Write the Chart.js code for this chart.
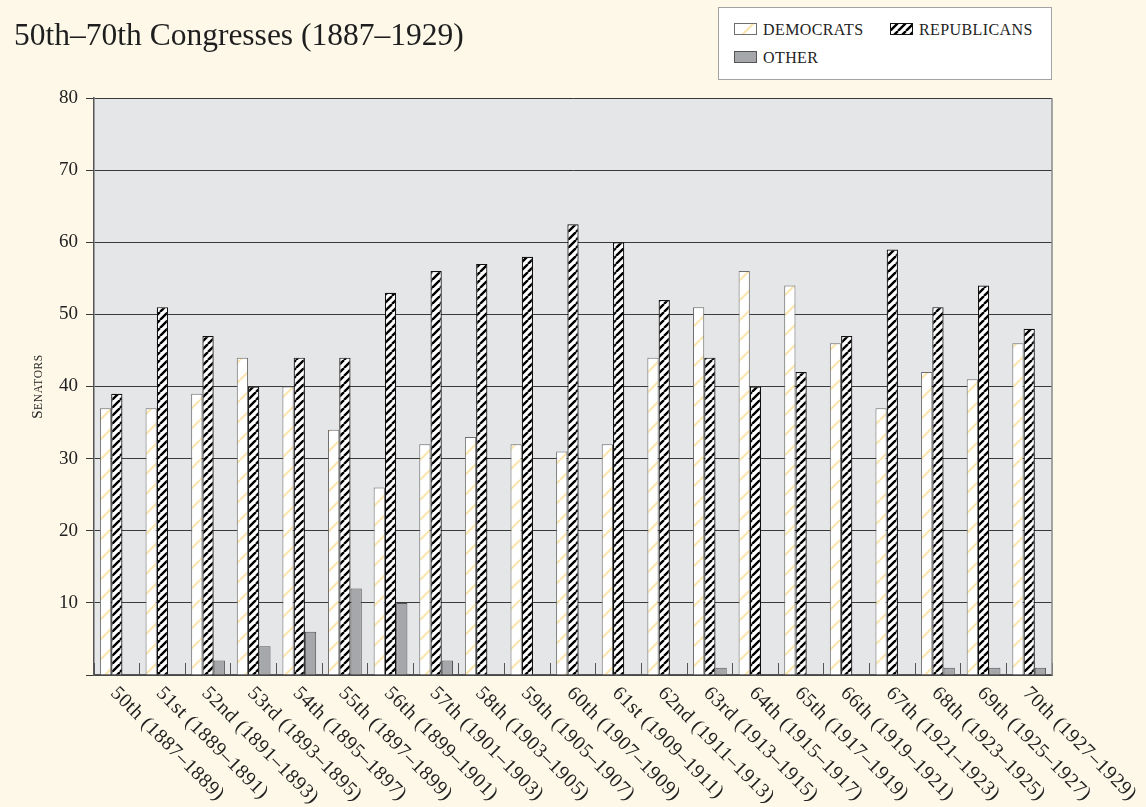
<!DOCTYPE html>
<html>
<head>
<meta charset="utf-8">
<script src="https://cdn.jsdelivr.net/npm/chart.js@4.4.1/dist/chart.umd.min.js"></script>
<style>
  html, body { margin: 0; padding: 0; background: #fdf8e8; }
  #wrap { position: relative; width: 1146px; height: 807px; overflow: hidden; }
  #chart { position: absolute; left: 0; top: 0; }
  #title { position: absolute; left: 14px; top: 19px; font: 31.5px/32px "Liberation Serif", serif; color: #1e1e1e; white-space: nowrap; }
  #legend { position: absolute; left: 718px; top: 7px; width: 334px; height: 73px; box-sizing: border-box; background: #fff; border: 1px solid #a3a3a3; }
  .sw { position: absolute; width: 23px; height: 12px; }
  .lt { position: absolute; font: 16px/16px "Liberation Serif", serif; letter-spacing: 0.4px; color: #222; white-space: nowrap; }
</style>
</head>
<body>
<div id="wrap">
  <canvas id="chart" width="1146" height="807"></canvas>
  <div id="title">50th–70th Congresses (1887–1929)</div>
  <div id="legend">
    <canvas class="sw" id="sw-dem" width="23" height="12" style="left:15px;top:15px"></canvas>
    <span class="lt" style="left:44px;top:14px">DEMOCRATS</span>
    <canvas class="sw" id="sw-rep" width="23" height="12" style="left:171px;top:15px"></canvas>
    <span class="lt" style="left:200px;top:14px">REPUBLICANS</span>
    <canvas class="sw" id="sw-oth" width="23" height="12" style="left:15px;top:43px"></canvas>
    <span class="lt" style="left:44px;top:42px">OTHER</span>
  </div>
</div>
<script>
// congressi e seggi al Senato
const congresses = [
  "50th (1887–1889)", "51st (1889–1891)", "52nd (1891–1893)", "53rd (1893–1895)",
  "54th (1895–1897)", "55th (1897–1899)", "56th (1899–1901)", "57th (1901–1903)",
  "58th (1903–1905)", "59th (1905–1907)", "60th (1907–1909)", "61st (1909–1911)",
  "62nd (1911–1913)", "63rd (1913–1915)", "64th (1915–1917)", "65th (1917–1919)",
  "66th (1919–1921)", "67th (1921–1923)", "68th (1923–1925)", "69th (1925–1927)",
  "70th (1927–1929)"
];
const democrats = [37, 37, 39, 44, 40, 34, 26, 32, 33, 32, 31, 32, 44, 51, 56, 54, 46, 37, 42, 41, 46];
const republicans = [39, 51, 47, 40, 44, 44, 53, 56, 57, 58, 62.5, 60, 52, 44, 40, 42, 47, 59, 51, 54, 48];
const other = [0, 0, 2, 4, 6, 12, 10, 2, 0, 0, 0, 0, 0, 1, 0, 0, 0, 0, 1, 1, 1];
const yTicks = [0, 10, 20, 30, 40, 50, 60, 70, 80];

const ctx = document.getElementById("chart").getContext("2d");

// tratteggio diagonale "/"
function stripes(target, size, bg, fg, lw) {
  const c = document.createElement("canvas");
  c.width = size;
  c.height = size;
  const g = c.getContext("2d");
  g.fillStyle = bg;
  g.fillRect(0, 0, size, size);
  g.strokeStyle = fg;
  g.lineWidth = lw;
  g.beginPath();
  for (const o of [-size, 0, size]) {
    g.moveTo(o, size);
    g.lineTo(o + size, 0);
  }
  g.stroke();
  return target.createPattern(c, "repeat");
}

const demFill = stripes(ctx, 20, "#ffffff", "#fce6b0", 2.2);
const repFill = stripes(ctx, 8, "#ffffff", "#000000", 2.4);
const othFill = "#a6a7aa";

// sfondo grigio dell'area del grafico
const plotBg = {
  id: "plotBg",
  beforeDraw(chart) {
    const { ctx, chartArea: a } = chart;
    ctx.save();
    ctx.fillStyle = "#e5e6e8";
    ctx.fillRect(a.left, a.top, a.right - a.left, a.bottom - a.top);
    ctx.restore();
  },
  beforeDatasetsDraw(chart) {
    const { ctx, chartArea: a } = chart;
    ctx.save();
    ctx.strokeStyle = "#8a8a8a";
    ctx.lineWidth = 1.5;
    ctx.beginPath();
    ctx.moveTo(a.right, a.top);
    ctx.lineTo(a.right, a.bottom);
    ctx.stroke();
    ctx.restore();
  }
};

// etichette inclinate e titolo asse y
const extraText = {
  id: "extraText",
  afterDraw(chart) {
    const { ctx, scales } = chart;
    const x = scales.x;
    const y = scales.y;
    ctx.save();
    ctx.font = '20px "Liberation Serif"';
    ctx.fillStyle = "#222";
    ctx.textAlign = "left";
    ctx.textBaseline = "alphabetic";
    if ("letterSpacing" in ctx) ctx.letterSpacing = "0.5px";
    congresses.forEach((lab, i) => {
      ctx.save();
      ctx.translate(x.getPixelForValue(i) - 7, x.top + 19);
      ctx.rotate(Math.PI / 4);
      ctx.fillText(lab, 0, 0);
      ctx.restore();
    });
    if ("letterSpacing" in ctx) ctx.letterSpacing = "0.6px";
    const big = '15px "Liberation Serif"';
    const small = '11.5px "Liberation Serif"';
    ctx.font = big;
    const w1 = ctx.measureText("S").width;
    ctx.font = small;
    const w2 = ctx.measureText("ENATORS").width;
    ctx.translate(37, (y.top + y.bottom) / 2);
    ctx.rotate(-Math.PI / 2);
    const start = -(w1 + w2) / 2;
    ctx.font = big;
    ctx.fillText("S", start, 5);
    ctx.font = small;
    ctx.fillText("ENATORS", start + w1, 5);
    ctx.restore();
  }
};

const chart = new Chart(ctx, {
  type: "bar",
  data: {
    labels: congresses,
    datasets: [
      { label: "Democrats", data: democrats, backgroundColor: demFill, borderColor: "#6e6e6e", borderWidth: 1 },
      { label: "Republicans", data: republicans, backgroundColor: repFill, borderColor: "#111", borderWidth: 1.2 },
      { label: "Other", data: other, backgroundColor: othFill, borderColor: "#555", borderWidth: 1 }
    ]
  },
  options: {
    responsive: false,
    animation: false,
    devicePixelRatio: 1,
    layout: { padding: { top: 98, right: 94, left: 0, bottom: 0 } },
    datasets: { bar: { categoryPercentage: 0.74, barPercentage: 1.0 } },
    plugins: {
      legend: { display: false },
      title: { display: false },
      tooltip: { enabled: false }
    },
    scales: {
      x: {
        offset: true,
        grid: { display: true, offset: true, drawOnChartArea: false, drawTicks: true, tickLength: -12, tickColor: "#555", tickWidth: 1 },
        border: { display: true, color: "#555", width: 1.5 },
        ticks: { display: false },
        afterFit(s) { s.height = 132; }
      },
      y: {
        min: yTicks[0],
        max: yTicks[yTicks.length - 1],
        afterBuildTicks(s) { s.ticks = yTicks.map(v => ({ value: v })); },
        ticks: {
          color: "#222",
          padding: 8,
          font: { family: "Liberation Serif", size: 19 },
          callback: v => (v === 0 ? "" : v)
        },
        grid: { color: "#3a3a3a", lineWidth: 1, tickLength: 8, tickColor: "#3a3a3a" },
        border: { display: true, color: "#555", width: 1.5 },
        afterFit(s) { s.width = 94; }
      }
    }
  },
  plugins: [plotBg, extraText]
});

// campioni della legenda
function swatch(id, fill, border) {
  const c = document.getElementById(id);
  const g = c.getContext("2d");
  g.fillStyle = typeof fill === "function" ? fill(g) : fill;
  g.fillRect(0, 0, c.width, c.height);
  g.strokeStyle = border;
  g.lineWidth = 1;
  g.strokeRect(0.5, 0.5, c.width - 1, c.height - 1);
}
swatch("sw-dem", g => stripes(g, 20, "#ffffff", "#fce6b0", 2.2), "#6e6e6e");
swatch("sw-rep", g => stripes(g, 8, "#ffffff", "#000000", 2.4), "#111");
swatch("sw-oth", othFill, "#555");
</script>
</body>
</html>
